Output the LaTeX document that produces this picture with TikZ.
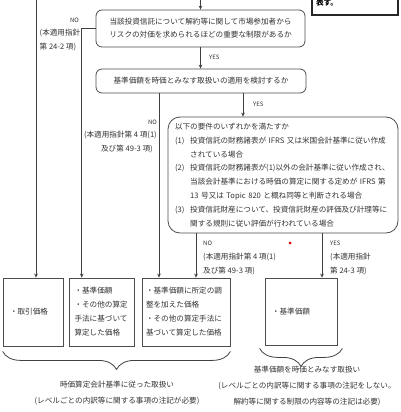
\documentclass[tikz,border=0pt]{standalone}
\usepackage{fontspec}
\setmainfont{Noto Sans CJK JP}
\usetikzlibrary{arrows.meta, positioning, calc, decorations.pathreplacing}

\begin{document}
\begin{tikzpicture}[x=1pt, y=-1pt,
    qbox/.style={draw=black!70, line width=0.8pt, rounded corners=6pt, align=center, text=black!80, font=\fontsize{7.6}{13}\selectfont},
    ansbox/.style={draw=black!70, line width=0.8pt, align=left, text=black!80, font=\fontsize{7.6}{14}\selectfont},
    lbl/.style={inner sep=0pt, text=black!80, font=\fontsize{7.6}{14}\selectfont},
    yn/.style={inner sep=0pt, text=black!80, font=\fontsize{6}{8}\selectfont},
    btxt/.style={inner sep=0pt, align=center, text=black!80, font=\fontsize{7.6}{15.8}\selectfont},
    arr/.style={draw=black!75, line width=0.7pt, -{Stealth[length=4pt, width=3.6pt]}},
    brc/.style={draw=black!75, line width=0.8pt, decorate, decoration={brace, amplitude=18pt}},
  ]
  \useasboundingbox (0,0) rectangle (400,412);

  % box cut off at the top right
  \node[draw=black!85, line width=1.2pt, minimum width=86, minimum height=24, text width=78, inner xsep=4pt, align=left, font=\fontsize{7.6}{10}\selectfont\bfseries] (note) at (355,3) {表す。};

  % questions
  \node[qbox, minimum width=209, minimum height=37] (qA) at (200.5,28.5) {当該投資信託について解約等に関して市場参加者から\\リスクの対価を求められるほどの重要な制限があるか};
  \node[qbox, minimum width=210, minimum height=24] (qB) at (201,81) {基準価額を時価とみなす取扱いの適用を検討するか};
  \node[qbox, rounded corners=12pt, minimum height=116, text width=216, inner xsep=7pt, align=left, font=\fontsize{7.6}{13.8}\selectfont] (qC) at (283,175) {以下の要件のいずれかを満たすか\\
    \makebox[2em][l]{(1)}投資信託の財務諸表が IFRS 又は米国会計基準に従い作成\\
    \hspace*{2em}されている場合\\
    \makebox[2em][l]{(2)}投資信託の財務諸表が(1)以外の会計基準に従い作成され、\\
    \hspace*{2em}当該会計基準における時価の算定に関する定めが IFRS 第\\
    \hspace*{2em}13 号又は Topic 820 と概ね同等と判断される場合\\
    \makebox[2em][l]{(3)}投資信託財産について、投資信託財産の評価及び計理等に\\
    \hspace*{2em}関する規則に従い評価が行われている場合};

  % answers
  \node[ansbox, minimum width=60, minimum height=68, text width=46] (price) at (33,312) {・取引価格};
  \node[ansbox, minimum width=65, minimum height=68, text width=54] (other) at (101.5,312) {・基準価額\\・その他の算定\\手法に基づいて\\算定した価格};
  \node[ansbox, minimum width=88, minimum height=68, text width=80] (adjusted) at (186,312) {・基準価額に所定の調\\整を加えた価格\\・その他の算定手法に\\基づいて算定した価格};
  \node[ansbox, minimum width=72, minimum height=67, text width=58] (nav) at (301,311.5) {・基準価額};

  % connectors
  \coordinate (topL) at (36,0);
  \coordinate (topA) at (200.5,0);
  \coordinate (xNoB) at (159,0);
  \coordinate (xYesB) at (243,0);
  \coordinate (xNoC) at (196,0);
  \coordinate (xYesC) at (322,0);

  \draw[arr] (topL) -- (price.north -| topL);
  \draw[arr] (topA) -- (qA.north);
  \draw[arr] (qA.west) -| ($(other.north west)!0.2!(other.north east)$);
  \draw[arr] (qA.south) -- (qA.south |- qB.north);
  \draw[arr] (qB.south -| xNoB) -- (adjusted.north -| xNoB);
  \draw[arr] (qB.south -| xYesB) -- (qC.north -| xYesB);
  \draw[arr] (qC.south -| xNoC) -- (adjusted.north -| xNoC);
  \draw[arr] (qC.south -| xYesC) -- (nav.north -| xYesC);

  % branch labels
  \node[yn, anchor=east] (noA) at (79,20) {NO};
  \node[lbl, anchor=west, align=left] (refA) at (39.5,40) {(本適用指針\\第 24-2 項)};
  \node[yn, anchor=west] (yesA) at (209,57) {YES};
  \node[yn, anchor=east] (noB) at (157,122) {NO};
  \node[lbl, anchor=east, align=right] (refB) at (157,142) {(本適用指針第 4 項(1)\\及び第 49-3 項)\hspace*{4pt}};
  \node[yn, anchor=west] (yesB) at (253,104) {YES};
  \node[yn, anchor=west] (noC) at (203,243) {NO};
  \node[lbl, anchor=west, align=left] (refC) at (203,264) {(本適用指針第 4 項(1)\\及び第 49-3 項)};
  \node[yn, anchor=west] (yesC) at (330,243) {YES};
  \node[lbl, anchor=west, align=left] (refCy) at (330,264) {(本適用指針\\第 24-3 項)};
  \fill[red!85!black] (290,243) circle (1.5);

  % braces
  \draw[brc] ($(adjusted.south east)+(0,5)$) -- ($(price.south west)+(0,5)$);
  \draw[brc] ($(nav.south east)+(5,3)$) -- ($(nav.south west)+(-5,3)$);
  \node[btxt] (fvText) at (117,393) {時価算定会計基準に従った取扱い\\(レベルごとの内訳等に関する事項の注記が必要)};
  \node[btxt] (navText) at (307,386) {基準価額を時価とみなす取扱い\\(レベルごとの内訳等に関する事項の注記をしない。\\解約等に関する制限の内容等の注記は必要)};
\end{tikzpicture}
\end{document}
